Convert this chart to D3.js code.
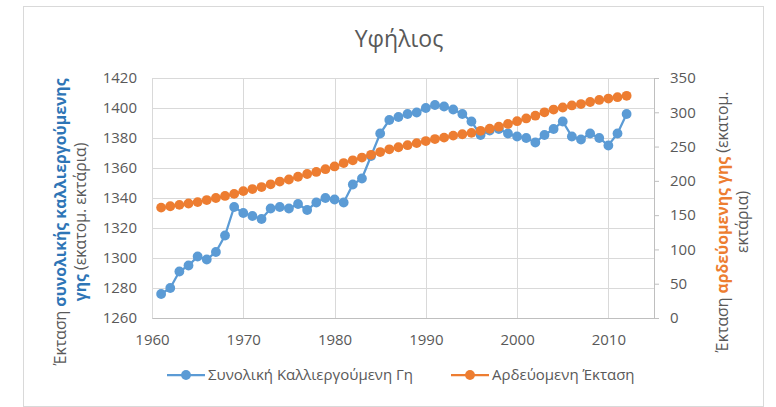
<!DOCTYPE html>
<html>
<head>
<meta charset="utf-8">
<script src="https://cdn.jsdelivr.net/npm/d3@7"></script>
<style>
  body { margin: 0; background: #fff; }
  svg { display: block; font-family: "Open Sans", sans-serif; }
</style>
</head>
<body>
<svg id="chart" width="776" height="407"></svg>
<script>
var years = d3.range(1961, 2013);

var totalLand = [1276, 1280, 1291, 1295, 1301, 1299, 1304, 1315, 1334, 1330,
  1328, 1326, 1333, 1334, 1333, 1336, 1332, 1337, 1340, 1339,
  1337, 1349, 1353, 1368, 1383, 1392, 1394, 1396, 1397, 1400,
  1402, 1401, 1399, 1396, 1391, 1382, 1385, 1386, 1383, 1381,
  1380, 1377, 1382, 1386, 1391, 1381, 1379, 1383, 1380, 1375,
  1383, 1396];

var irrigated = [161, 163, 165, 167, 169, 172, 175, 178, 181, 185,
  188, 191, 195, 199, 202, 206, 210, 213, 217, 221,
  226, 230, 234, 238, 242, 246, 249, 252, 255, 258,
  261, 263, 266, 268, 270, 273, 276, 279, 283, 287,
  291, 295, 300, 304, 307, 310, 312, 315, 318, 320,
  322, 324];

var leftTicks = d3.range(1260, 1421, 20);
var rightTicks = d3.range(0, 351, 50);
var xTicks = [1960, 1970, 1980, 1990, 2000, 2010];

var seriesNames = ["Συνολική Καλλιεργούμενη Γη", "Αρδεύομενη Έκταση"];
var blue = "#5b9bd5", orange = "#ed7d31", grey = "#595959", grid = "#d9d9d9";

var svg = d3.select("#chart");

// outer frame
svg.append("rect").attr("x", 23.5).attr("y", 6.5).attr("width", 740).attr("height", 400)
  .attr("fill", "none").attr("stroke", "#d9d9d9");

var x = d3.scaleLinear().domain([1960, 2015]).range([152, 654]);
var yL = d3.scaleLinear().domain([1260, 1420]).range([318, 78]);
var yR = d3.scaleLinear().domain([0, 350]).range([318, 78]);

// gridlines
svg.append("g").selectAll("line").data(leftTicks).join("line")
  .attr("x1", 152).attr("x2", 654)
  .attr("y1", d => yL(d) + 0.5).attr("y2", d => yL(d) + 0.5)
  .attr("stroke", grid);
svg.append("g").selectAll("line").data(xTicks).join("line")
  .attr("x1", d => Math.round(x(d)) + 0.5).attr("x2", d => Math.round(x(d)) + 0.5)
  .attr("y1", 78).attr("y2", 318)
  .attr("stroke", grid);

// axes
var gL = svg.append("g").attr("transform", "translate(152,0)")
  .call(d3.axisLeft(yL).tickValues(leftTicks).tickFormat(d3.format("d")).tickSize(0).tickPadding(15));
var gR = svg.append("g").attr("transform", "translate(654,0)")
  .call(d3.axisRight(yR).tickValues(rightTicks).tickSize(5).tickPadding(11));
var gX = svg.append("g").attr("transform", "translate(0,318)")
  .call(d3.axisBottom(x).tickValues(xTicks).tickFormat(d3.format("d")).tickSize(0).tickPadding(16));

[gL, gR, gX].forEach(g => {
  g.selectAll("text").attr("fill", grey).style("font-size", "15px").style("font-family", "Open Sans");
  g.selectAll("line").attr("stroke", "#bfbfbf");
});
gL.select(".domain").remove();
gX.select(".domain").attr("stroke", "#bfbfbf");
gR.select(".domain").attr("stroke", "#bfbfbf");

// title
svg.append("text").attr("x", 399).attr("y", 47).attr("text-anchor", "middle")
  .attr("fill", grey).style("font-size", "23px").text("Υφήλιος");

// axis titles
function axisTitle (cx, cy, lines) {
  var t = svg.append("text").attr("transform", "translate(" + cx + "," + cy + ") rotate(-90)")
    .attr("text-anchor", "middle").style("font-size", "15.8px").attr("fill", grey);
  lines.forEach((parts, i) => {
    var line = t.append("tspan").attr("x", 0).attr("dy", i === 0 ? 0 : 20);
    parts.forEach(p => {
      line.append("tspan").text(p[0])
        .attr("fill", p[1] || grey)
        .style("font-weight", p[1] ? "bold" : "normal");
    });
  });
}
axisTitle(66, 222, [
  [["Έκταση "], ["συνολικής καλλιεργούμενης", "#2e75b6"]],
  [["γης", "#2e75b6"], [" (εκατομ. εκτάρια)"]]
]);
axisTitle(728, 222, [
  [["Έκταση "], ["αρδεύομενης γης", orange], [" (εκατομ."]],
  [["εκτάρια)"]]
]);

// series
var lineL = d3.line().x((d, i) => x(years[i])).y(d => yL(d));
var lineR = d3.line().x((d, i) => x(years[i])).y(d => yR(d));

function drawSeries (values, line, yScale, color) {
  svg.append("path").datum(values).attr("d", line)
    .attr("fill", "none").attr("stroke", color).attr("stroke-width", 2.25);
  svg.append("g").selectAll("circle").data(values).join("circle")
    .attr("cx", (d, i) => x(years[i])).attr("cy", d => yScale(d))
    .attr("r", 4.9).attr("fill", color);
}
drawSeries(totalLand, lineL, yL, blue);
drawSeries(irrigated, lineR, yR, orange);

// legend
var legend = svg.append("g").attr("transform", "translate(0,375)");
[[167, blue, seriesNames[0]], [451, orange, seriesNames[1]]].forEach(l => {
  legend.append("line").attr("x1", l[0]).attr("x2", l[0] + 38)
    .attr("stroke", l[1]).attr("stroke-width", 2.25);
  legend.append("circle").attr("cx", l[0] + 19).attr("r", 4.9).attr("fill", l[1]);
  legend.append("text").attr("x", l[0] + 41).attr("dy", "0.35em")
    .attr("fill", grey).style("font-size", "15px").text(l[2]);
});
</script>
</body>
</html>
